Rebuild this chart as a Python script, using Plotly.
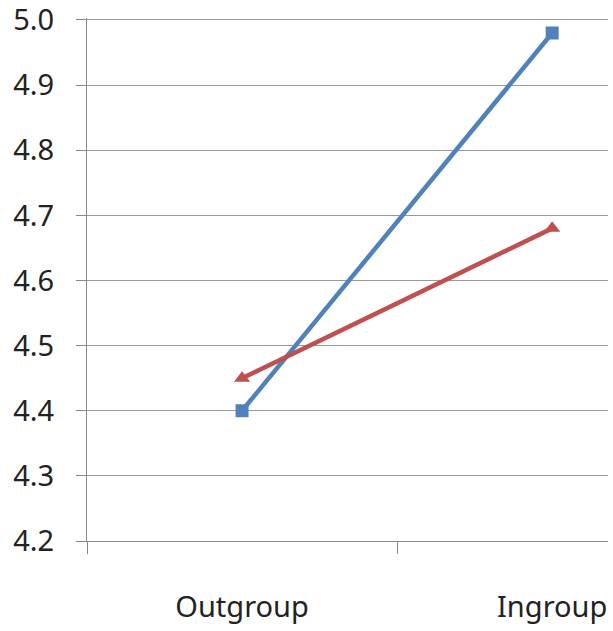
import plotly.graph_objects as go

categories = ["Outgroup", "Ingroup"]
blue_values = [4.40, 4.98]
red_values = [4.45, 4.68]
y_ticks = [4.2, 4.3, 4.4, 4.5, 4.6, 4.7, 4.8, 4.9, 5.0]

fig = go.Figure()
fig.add_trace(go.Scatter(
    x=categories, y=blue_values, mode="lines+markers",
    line=dict(color="#4F81BD", width=4.5),
    marker=dict(symbol="square", size=13, color="#4F81BD"),
    showlegend=False,
))
fig.add_trace(go.Scatter(
    x=categories, y=red_values, mode="lines+markers",
    line=dict(color="#C0504D", width=4.5),
    marker=dict(symbol="triangle-up", size=14, color="#C0504D"),
    showlegend=False,
))

fig.update_layout(
    width=613, height=631,
    margin=dict(l=87, r=5, t=18, b=90),
    paper_bgcolor="white", plot_bgcolor="white",
    font=dict(family="Noto Sans", size=29, color="#222"),
)
fig.update_xaxes(
    type="category", range=[-0.5, 1.18],
    tickson="boundaries", ticks="outside", ticklen=12, tickcolor="#888",
    showline=True, linecolor="#888", linewidth=1.2,
    showgrid=False, ticklabelstandoff=40, automargin=False,
)
fig.update_yaxes(
    range=[4.2, 5.003], tickvals=y_ticks, ticktext=[f"{v:.1f}" for v in y_ticks],
    ticks="outside", ticklen=10, tickcolor="#888",
    showline=True, linecolor="#888", linewidth=1.2,
    showgrid=True, gridcolor="#999", gridwidth=1.2,
    zeroline=False, ticklabelstandoff=16, automargin=False,
    ticklabeloverflow="allow",
)
fig.write_html("out.html")
